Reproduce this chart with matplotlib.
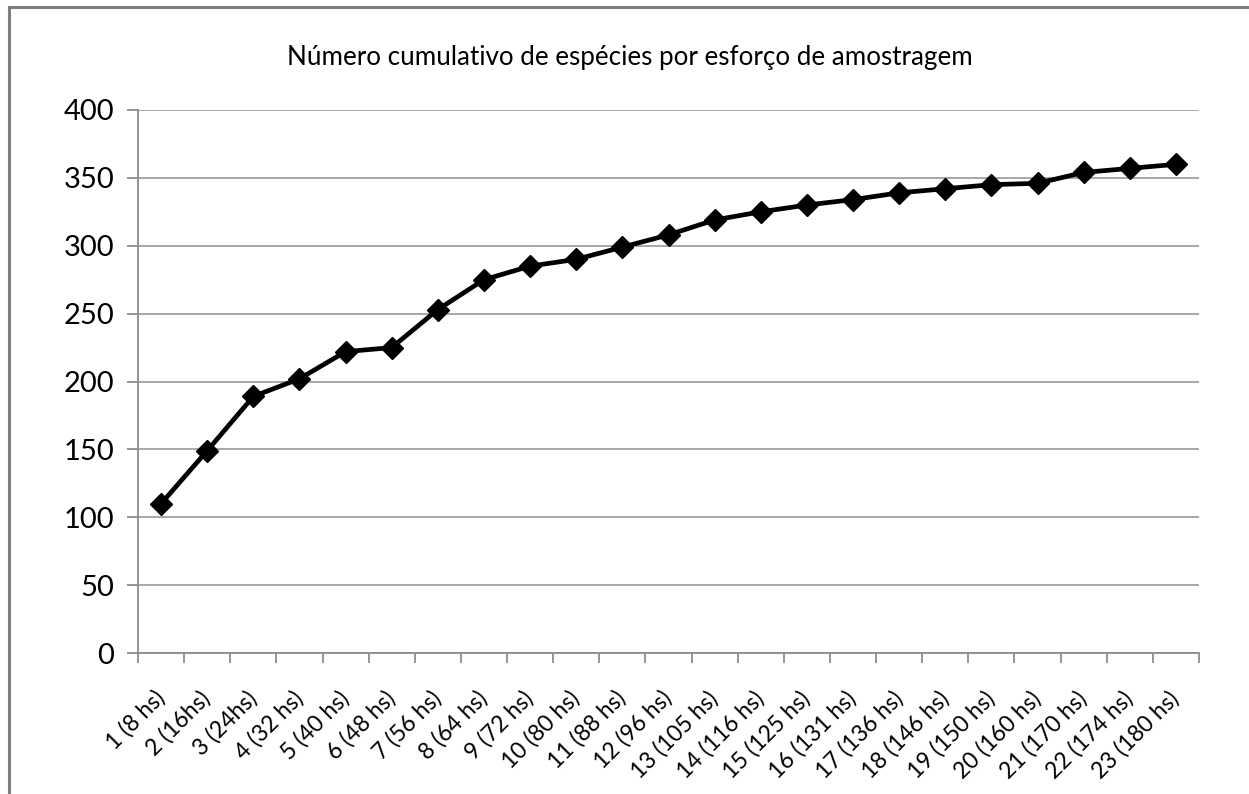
import matplotlib
matplotlib.use("Agg")
import matplotlib.pyplot as plt
from matplotlib.patches import Rectangle

plt.rcParams['font.family'] = ['Lato', 'DejaVu Sans']

# dados
rotulos = ['1 (8 hs)', '2 (16hs)', '3 (24hs)', '4 (32 hs)', '5 (40 hs)', '6 (48 hs)',
           '7 (56 hs)', '8 (64 hs)', '9 (72 hs)', '10 (80 hs)', '11 (88 hs)', '12 (96 hs)',
           '13 (105 hs)', '14 (116 hs)', '15 (125 hs)', '16 (131 hs)', '17 (136 hs)',
           '18 (146 hs)', '19 (150 hs)', '20 (160 hs)', '21 (170 hs)', '22 (174 hs)',
           '23 (180 hs)']
especies = [110, 149, 189, 202, 222, 225, 253, 275, 285, 290, 299, 308,
            319, 325, 330, 334, 339, 342, 345, 346, 354, 357, 360]
y_ticks = [0, 50, 100, 150, 200, 250, 300, 350, 400]

fig = plt.figure(figsize=(12.49, 7.94), dpi=100)
fig.patches.append(Rectangle((9 / 1249, -0.1), 1.2, 1 - 7 / 794 + 0.1,
                             transform=fig.transFigure, fill=False,
                             edgecolor='#7f7f7f', linewidth=2.2))

ax = fig.add_axes([138 / 1249, 1 - 653 / 794, (1199 - 138) / 1249, (653 - 110) / 794])
x = list(range(len(especies)))
ax.plot(x, especies, color='black', linewidth=3.4, marker='D', markersize=11,
        clip_on=False, zorder=3)

ax.set_xlim(-0.5, len(especies) - 0.5)
ax.set_ylim(0, 400)
ax.set_yticks(y_ticks)
ax.set_yticklabels([str(v) for v in y_ticks], fontsize=21)
ax.grid(True, axis='y', color='#a0a0a0', linewidth=1.3)
ax.set_axisbelow(True)

ax.set_xticks(x)
ax.set_xticklabels(rotulos, rotation=45, ha='right', va='center',
                   rotation_mode='anchor', fontsize=16.5)
ax.set_xticks([i - 0.5 for i in range(len(especies) + 1)], minor=True)
ax.tick_params(axis='x', which='major', length=0, pad=30)
ax.tick_params(axis='x', which='minor', length=7, color='#8c8c8c', width=1.3)
ax.tick_params(axis='y', length=8, color='#8c8c8c', width=1.3, pad=9)

for s in ['top', 'right']:
    ax.spines[s].set_visible(False)
for s in ['left', 'bottom']:
    ax.spines[s].set_color('#8c8c8c')
    ax.spines[s].set_linewidth(1.3)

fig.text(630 / 1249, 1 - 58 / 794, 'Número cumulativo de espécies por esforço de amostragem',
         ha='center', va='center', fontsize=18.7)

fig.savefig('out.png', dpi=100)
